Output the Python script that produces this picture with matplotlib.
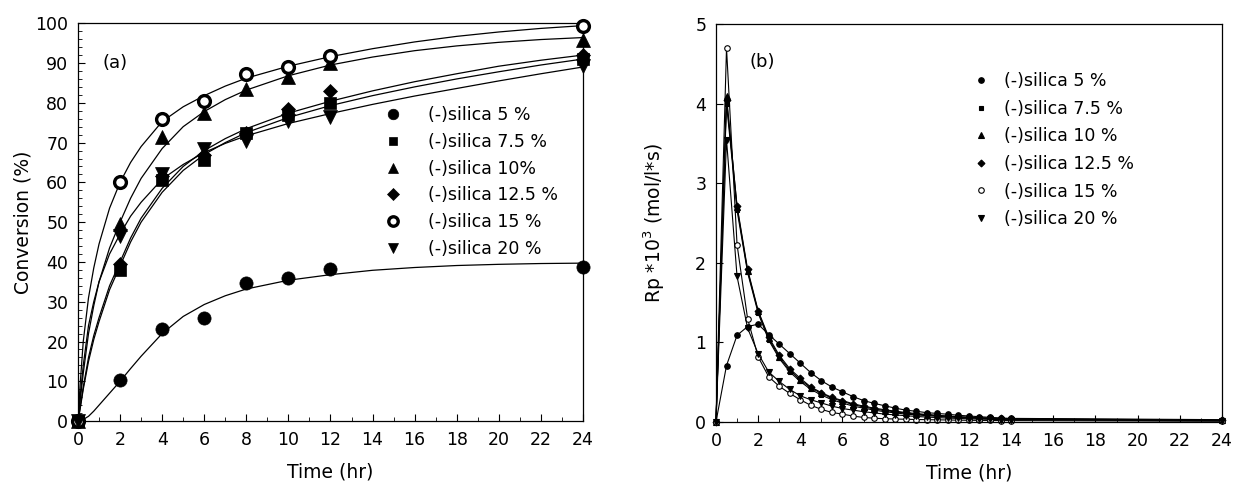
import matplotlib
matplotlib.use("Agg")
from matplotlib import pyplot as plt
from matplotlib.ticker import MultipleLocator

plt.rcParams['font.family'] = ['DejaVu Sans']
plt.rcParams['mathtext.fontset'] = 'dejavusans'

labels_a = ['(-)silica 5 %', '(-)silica 7.5 %', '(-)silica 10%',
            '(-)silica 12.5 %', '(-)silica 15 %', '(-)silica 20 %']
labels_b = ['(-)silica 5 %', '(-)silica 7.5 %', '(-)silica 10 %',
            '(-)silica 12.5 %', '(-)silica 15 %', '(-)silica 20 %']

# (a) measured conversion (%)
time_a = [0, 2, 4, 6, 8, 10, 12, 24]
conv_5 = [0, 10.3, 23.2, 26.0, 34.6, 36.0, 38.2, 38.7]
conv_75 = [0, 38.0, 60.5, 65.5, 72.5, 77.0, 80.0, 91.0]
conv_10 = [0, 49.5, 71.5, 77.5, 83.5, 86.5, 90.0, 95.8]
conv_125 = [0, 39.5, 61.5, 67.0, 72.5, 78.5, 83.0, 92.0]
conv_15 = [0, 60.0, 76.0, 80.5, 87.3, 89.0, 91.8, 99.3]
conv_20 = [0, 46.5, 62.0, 68.5, 70.5, 75.5, 76.5, 89.3]

# (a) fitted curves
time_fit = [0, 0.1, 0.25, 0.5, 0.75, 1, 1.5, 2, 2.5, 3, 4, 5, 6, 7, 8, 10, 12,
            14, 16, 18, 20, 22, 24]
fit_5 = [0, 0.1, 0.4, 1.2, 2.5, 4.0, 7.0, 10.0, 13.2, 16.3, 22.0, 26.3, 29.3,
         31.5, 33.2, 35.4, 36.8, 37.9, 38.6, 39.1, 39.4, 39.6, 39.7]
fit_75 = [0, 3, 8, 15, 20.5, 25, 33, 39, 45, 50, 57.5, 63, 67, 70, 72.5, 76.3,
          79.3, 81.8, 84, 86, 87.8, 89.5, 91]
fit_10 = [0, 5, 12, 22, 29, 35, 43.5, 50, 56, 61, 68.5, 74, 77.8, 80.8, 83.2,
          86.8, 89.5, 91.5, 93.1, 94.3, 95.2, 95.9, 96.4]
fit_125 = [0, 3.3, 8.5, 16, 21.5, 26, 34, 40, 46, 51, 58.5, 64, 68, 71, 73.5,
           77.4, 80.4, 83, 85.3, 87.3, 89.2, 90.7, 92]
fit_15 = [0, 9, 20, 31, 38.5, 44.5, 53.5, 60, 65, 69, 75.3, 79, 81.8, 84.2, 86.2,
          89.2, 91.6, 93.6, 95.3, 96.7, 97.8, 98.7, 99.4]
fit_20 = [0, 6, 14, 24, 30, 35, 42, 47, 51.5, 55, 60.8, 64.5, 67.5, 69.8, 71.7,
          74.8, 77.3, 79.6, 81.7, 83.6, 85.5, 87.3, 89]

# (b) rate Rp*10^3 (mol/l*s)
time_b = [0, 0.5, 1, 1.5, 2, 2.5, 3, 3.5, 4, 4.5, 5, 5.5, 6, 6.5, 7, 7.5, 8, 8.5,
          9, 9.5, 10, 10.5, 11, 11.5, 12, 12.5, 13, 13.5, 14, 24]
rp_5 = [0, 0.71, 1.09, 1.20, 1.23, 1.10, 0.98, 0.86, 0.74, 0.62, 0.52, 0.44, 0.38,
        0.32, 0.27, 0.235, 0.205, 0.175, 0.15, 0.135, 0.118, 0.108, 0.098, 0.085,
        0.076, 0.067, 0.059, 0.051, 0.046, 0.03]
rp_75 = [0, 4.00, 2.66, 1.88, 1.37, 1.03, 0.80, 0.63, 0.51, 0.41, 0.34, 0.28, 0.24,
         0.20, 0.175, 0.15, 0.13, 0.115, 0.10, 0.09, 0.08, 0.072, 0.064, 0.057,
         0.051, 0.046, 0.042, 0.038, 0.035, 0.02]
rp_10 = [0, 4.10, 2.70, 1.90, 1.39, 1.05, 0.82, 0.65, 0.53, 0.43, 0.36, 0.30, 0.26,
         0.22, 0.19, 0.165, 0.145, 0.128, 0.113, 0.10, 0.089, 0.08, 0.072, 0.064,
         0.058, 0.052, 0.047, 0.043, 0.039, 0.02]
rp_125 = [0, 4.05, 2.72, 1.92, 1.40, 1.07, 0.84, 0.67, 0.55, 0.44, 0.37, 0.31, 0.27,
          0.23, 0.20, 0.175, 0.155, 0.137, 0.12, 0.107, 0.095, 0.085, 0.076, 0.068,
          0.061, 0.055, 0.05, 0.045, 0.041, 0.025]
rp_15 = [0, 4.70, 2.23, 1.30, 0.82, 0.57, 0.45, 0.36, 0.28, 0.21, 0.16, 0.12, 0.10,
         0.075, 0.058, 0.048, 0.042, 0.038, 0.035, 0.032, 0.03, 0.028, 0.026, 0.024,
         0.022, 0.021, 0.02, 0.019, 0.018, 0.01]
rp_20 = [0, 3.55, 1.83, 1.18, 0.86, 0.63, 0.51, 0.41, 0.33, 0.28, 0.24, 0.20, 0.17,
         0.15, 0.13, 0.115, 0.10, 0.09, 0.08, 0.07, 0.063, 0.056, 0.05, 0.045,
         0.041, 0.037, 0.034, 0.031, 0.028, 0.015]

markers = ['o', 's', '^', 'D', 'o', 'v']
msize_a = [9.5, 8, 9.5, 7.5, 8.5, 9.5]
msize_b = [4, 3.5, 4, 3.5, 4, 4]

fig = plt.figure(figsize=(12.34, 4.84), dpi=100)
ax1 = fig.add_axes([0.0632, 0.130, 0.4092, 0.822])
ax2 = fig.add_axes([0.5802, 0.128, 0.4100, 0.822])

# ---- panel (a)
conv = [conv_5, conv_75, conv_10, conv_125, conv_15, conv_20]
fits = [fit_5, fit_75, fit_10, fit_125, fit_15, fit_20]
for f in fits:
    ax1.plot(time_fit, f, color='black', lw=0.9, zorder=2)
for i, y in enumerate(conv):
    is_open = (i == 4)
    ax1.plot(time_a, y, linestyle='none', marker=markers[i], ms=msize_a[i],
             mfc='white' if is_open else 'black', mec='black',
             mew=2.4 if is_open else 0.5, label=labels_a[i], zorder=3, clip_on=False)

ax1.set_xlim(0, 24)
ax1.set_ylim(0, 100)
ax1.xaxis.set_major_locator(MultipleLocator(2))
ax1.xaxis.set_minor_locator(MultipleLocator(1))
ax1.yaxis.set_major_locator(MultipleLocator(10))
ax1.yaxis.set_minor_locator(MultipleLocator(2))
ax1.set_xlabel('Time (hr)', fontsize=13.5, labelpad=10)
ax1.set_ylabel('Conversion (%)', fontsize=13.5, labelpad=2)
ax1.text(1.75, 90, '(a)', fontsize=13, ha='center', va='center')
ax1.legend(loc='upper left', bbox_to_anchor=(0.606, 0.791), frameon=False,
           fontsize=12.5, borderpad=0, handlelength=1.0, handletextpad=1.56,
           labelspacing=0.5, borderaxespad=0, markerscale=0.8)

# ---- panel (b)
rates = [rp_5, rp_75, rp_10, rp_125, rp_15, rp_20]
for i, y in enumerate(rates):
    is_open = (i == 4)
    ax2.plot(time_b, y, color='black', lw=0.8, marker=markers[i], ms=msize_b[i],
             mfc='white' if is_open else 'black', mec='black', mew=0.8,
             label=labels_b[i], clip_on=False)

ax2.set_xlim(0, 24)
ax2.set_ylim(0, 5)
ax2.xaxis.set_major_locator(MultipleLocator(2))
ax2.xaxis.set_minor_locator(MultipleLocator(1))
ax2.yaxis.set_major_locator(MultipleLocator(1))
ax2.set_xlabel('Time (hr)', fontsize=13.5, labelpad=10)
ax2.set_ylabel('Rp *10$^3$ (mol/l*s)', fontsize=13.5, labelpad=20)
ax2.text(2.2, 4.53, '(b)', fontsize=13, ha='center', va='center')
leg = ax2.legend(loc='upper left', bbox_to_anchor=(0.506, 0.879), frameon=False,
                 fontsize=12.5, borderpad=0, handlelength=1.0, handletextpad=0.83,
                 labelspacing=0.55, borderaxespad=0)
for h in leg.legend_handles:
    h.set_linestyle('none')

for ax in (ax1, ax2):
    ax.tick_params(which='both', direction='in', top=False, right=False,
                   labelsize=12.5, pad=7)
    ax.tick_params(which='major', length=5)
    ax.tick_params(which='minor', length=3)
    for s in ax.spines.values():
        s.set_linewidth(0.9)

fig.savefig('out.png', dpi=100)
